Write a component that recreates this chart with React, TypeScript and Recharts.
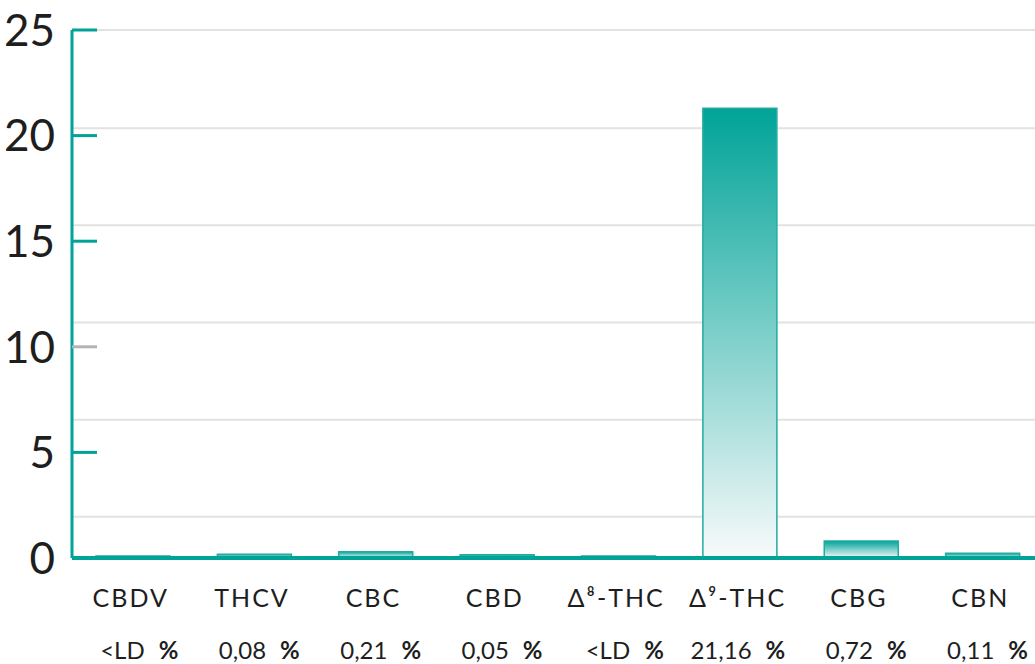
import React from 'react';
import { BarChart, Bar, XAxis, YAxis, ReferenceLine } from 'recharts';

const categories = ['CBDV', 'THCV', 'CBC', 'CBD', 'Δ⁸-THC', 'Δ⁹-THC', 'CBG', 'CBN'];
const barValues = [0.1, 0.18, 0.3, 0.15, 0.1, 21.3, 0.8, 0.22];
const valueLabels = ['<LD', '0,08', '0,21', '0,05', '<LD', '21,16', '0,72', '0,11'];
const yTicks = [0, 5, 10, 15, 20, 25];
// the light grid lines don't sit on the ticks in the original
const gridValues = [1.95, 6.55, 11.15, 15.75, 20.35, 25];

const TEAL = '#00a398';
const FONT = "Lato, 'Open Sans', sans-serif";

const data = categories.map((name, i) => ({
  name,
  value: barValues[i],
  label: valueLabels[i],
}));

const YTick = (props: any) => {
  const { x, y, payload } = props;
  const muted = payload.value === 10;
  return (
    <g>
      <line x1={x + 17} x2={x + 42} y1={y} y2={y} stroke={muted ? '#b3b3b3' : TEAL} strokeWidth={3} />
      <text x={x} y={y} dy="0.36em" textAnchor="end" fontSize={44} fill="#1e1e1e" fontFamily={FONT}>
        {payload.value}
      </text>
    </g>
  );
};

const XTick = (props: any) => {
  const { x, y, payload, index } = props;
  const label = valueLabels[index];
  return (
    <g>
      <text x={x - 2} y={y + 49} textAnchor="middle" fontSize={25} letterSpacing={2} fill="#1e1e1e" fontFamily={FONT}>
        {payload.value}
      </text>
      <text x={x + 12} y={y + 101} textAnchor="end" fontSize={24} fill="#1e1e1e" fontFamily={FONT}>
        {label}
      </text>
      <text x={x + 26} y={y + 101} textAnchor="start" fontSize={24} fontWeight="bold" fill="#1e1e1e" fontFamily={FONT}>
        %
      </text>
    </g>
  );
};

export default function App() {
  return (
    <div style={{ position: 'absolute', left: 0, top: 0, background: '#fff' }}>
      <BarChart width={1035} height={664} data={data} margin={{ top: 30, right: -8, bottom: 0, left: 0 }}>
        <defs>
          <linearGradient id="barGrad" x1="0" y1="0" x2="0" y2="1">
            <stop offset="0%" stopColor={TEAL} />
            <stop offset="100%" stopColor="#f8fafb" />
          </linearGradient>
        </defs>
        {gridValues.map(v => (
          <ReferenceLine key={v} y={v} stroke="#e2e2e2" strokeWidth={2} {...({ zIndex: -100 } as any)} />
        ))}
        <XAxis
          dataKey="name"
          interval={0}
          height={106}
          tickLine={false}
          tickSize={0}
          tickMargin={0}
          axisLine={{ stroke: TEAL, strokeWidth: 4 }}
          tick={<XTick />}
        />
        <YAxis
          domain={[0, 25]}
          ticks={yTicks}
          width={72}
          tickLine={false}
          tickSize={0}
          tickMargin={17}
          axisLine={{ stroke: TEAL, strokeWidth: 3 }}
          tick={<YTick />}
        />
        <Bar
          dataKey="value"
          barSize={74}
          fill="url(#barGrad)"
          stroke="#22aba1"
          strokeWidth={1.5}
          isAnimationActive={false}
        />
      </BarChart>
    </div>
  );
}
